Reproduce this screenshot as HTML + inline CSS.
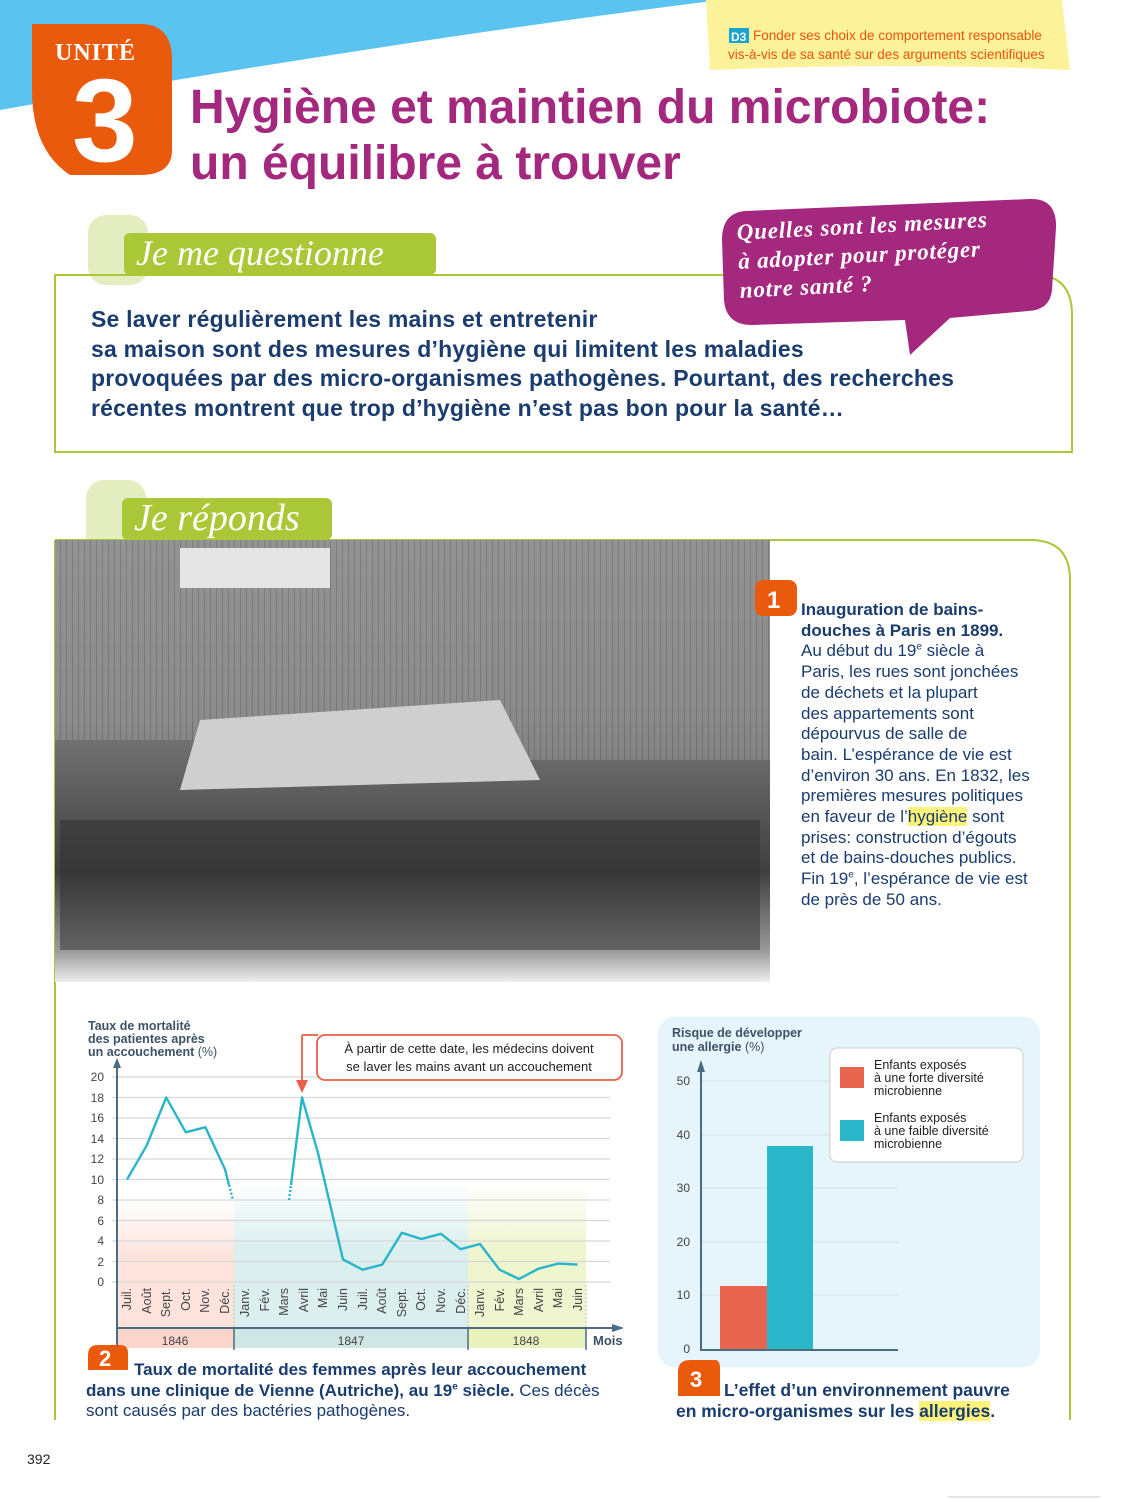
<!DOCTYPE html>
<html><head><meta charset="utf-8"><style>
*{margin:0;padding:0;box-sizing:border-box}
body{width:1125px;height:1500px;position:relative;background:#fff;font-family:"Liberation Sans",sans-serif;overflow:hidden}
.a{position:absolute}
.cap{color:#1a3c6e;font-size:17px;line-height:20.7px}
sup{line-height:0;font-size:10px}
</style></head><body>
<svg class="a" style="left:0;top:0" width="1125" height="1500">
<path d="M0 0 H720 Q400 40 0 110 Z" fill="#5bc3ef"/>
<path d="M32 24 H140 Q172 24 172 60 V150 Q172 175 140 175 H70 Q32 150 32 90 Z" fill="#e95a0c"/>
<path d="M706 0 H1062 L1070 70 Q900 62 710 70 Z" fill="#fcf29a"/>
<rect x="729" y="28" width="20" height="15" fill="#1aa3d1"/>
<text x="731" y="41" font-size="12" font-weight="bold" fill="#fff">D3</text>
<rect x="88" y="215" width="60" height="70" rx="18" fill="#e3edc0"/>
<path d="M55 275 H1035 Q1072 275 1072 315 V452 H55 Z" fill="none" stroke="#a9c736" stroke-width="2"/>
<rect x="124" y="233" width="312" height="42" rx="6" fill="#a9c736"/>
<path d="M745 211 L1030 199 Q1057 198 1056 228 L1052 290 Q1050 310 1028 311 L950 318 L910 355 L905 320 L752 325 Q726 325 724 300 L722 240 Q722 213 745 211 Z" fill="#a3287e"/>
<rect x="86" y="480" width="60" height="75" rx="18" fill="#e3edc0"/>
<path d="M55 540 H1030 Q1070 540 1070 580 V1420 M55 540 V1420" fill="none" stroke="#a9c736" stroke-width="2"/>
<rect x="122" y="498" width="210" height="42" rx="6" fill="#a9c736"/>
<defs>
<linearGradient id="ph" x1="0" y1="0" x2="0" y2="1"><stop offset="0" stop-color="#8a8a8a"/><stop offset=".4" stop-color="#7a7a7a"/><stop offset=".75" stop-color="#3f3f3f"/><stop offset=".93" stop-color="#9a9a9a"/><stop offset="1" stop-color="#eeeeee"/></linearGradient>
<linearGradient id="pk" x1="0" y1="0" x2="0" y2="1"><stop offset="0" stop-color="#fde3dc" stop-opacity="0"/><stop offset=".45" stop-color="#fde3dc"/></linearGradient>
<linearGradient id="tl" x1="0" y1="0" x2="0" y2="1"><stop offset="0" stop-color="#dff0f0" stop-opacity="0"/><stop offset=".45" stop-color="#dcefef"/></linearGradient>
<linearGradient id="yl" x1="0" y1="0" x2="0" y2="1"><stop offset="0" stop-color="#f1f6d6" stop-opacity="0"/><stop offset=".45" stop-color="#eff5cf"/></linearGradient>
<pattern id="hatch" width="6" height="6" patternUnits="userSpaceOnUse"><rect width="6" height="6" fill="#9a9a9a"/><line x1="0" y1="0" x2="0" y2="6" stroke="#666" stroke-width="1.5"/></pattern>
</defs>
<rect x="55" y="540" width="715" height="442" fill="url(#ph)"/>
<rect x="55" y="540" width="430" height="200" fill="url(#hatch)" opacity=".55"/>
<rect x="485" y="540" width="285" height="220" fill="url(#hatch)" opacity=".5"/>
<rect x="180" y="548" width="150" height="40" fill="#e5e5e5"/>
<path d="M200 720 L500 700 L540 780 L180 790 Z" fill="#cfcfcf"/>
<rect x="60" y="820" width="700" height="130" fill="#2e2e2e" opacity=".5"/>
<rect x="755" y="580" width="42" height="36" rx="8" fill="#e95a0c"/>
<text x="767" y="608" font-size="24" font-weight="bold" fill="#fff">1</text>
<rect x="117" y="1200" width="117" height="128" fill="url(#pk)"/>
<rect x="234" y="1180" width="234" height="148" fill="url(#tl)"/>
<rect x="468" y="1180" width="118" height="148" fill="url(#yl)"/>
<g stroke="#d8d8d8" stroke-width="1.2">
<line x1="112" x2="610" y1="1077" y2="1077"/><line x1="112" x2="610" y1="1097.5" y2="1097.5"/><line x1="112" x2="610" y1="1118" y2="1118"/><line x1="112" x2="610" y1="1138.5" y2="1138.5"/><line x1="112" x2="610" y1="1159" y2="1159"/><line x1="112" x2="610" y1="1179.5" y2="1179.5"/><line x1="112" x2="610" y1="1200" y2="1200"/><line x1="112" x2="610" y1="1220.5" y2="1220.5"/><line x1="112" x2="610" y1="1241" y2="1241"/><line x1="112" x2="610" y1="1261.5" y2="1261.5"/><line x1="112" x2="610" y1="1282" y2="1282"/>
</g>
<g stroke="#bbb" stroke-dasharray="2 2"><line x1="234" x2="234" y1="1285" y2="1328"/><line x1="468" x2="468" y1="1285" y2="1328"/><line x1="586" x2="586" y1="1285" y2="1328"/></g>
<rect x="117" y="1328" width="117" height="20" fill="#fbd5c9"/>
<rect x="234" y="1328" width="234" height="20" fill="#cfe6e4"/>
<rect x="468" y="1328" width="118" height="20" fill="#e9f1bd"/>
<line x1="117" x2="117" y1="1065" y2="1350" stroke="#4a6b80" stroke-width="2"/>
<path d="M113 1068 L117 1058 L121 1068 Z" fill="#4a6b80"/>
<line x1="117" x2="622" y1="1328" y2="1328" stroke="#4a6b80" stroke-width="2"/>
<path d="M612 1324 L624 1328 L612 1332 Z" fill="#4a6b80"/>
<line x1="234" x2="234" y1="1328" y2="1350" stroke="#4a6b80" stroke-width="1.5"/>
<line x1="468" x2="468" y1="1328" y2="1350" stroke="#4a6b80" stroke-width="1.5"/>
<line x1="586" x2="586" y1="1328" y2="1350" stroke="#4a6b80" stroke-width="1.5"/>
<g font-size="12" fill="#444" text-anchor="end">
<text x="104" y="1081">20</text><text x="104" y="1102">18</text><text x="104" y="1122">16</text><text x="104" y="1143">14</text><text x="104" y="1163">12</text><text x="104" y="1184">10</text><text x="104" y="1204">8</text><text x="104" y="1225">6</text><text x="104" y="1245">4</text><text x="104" y="1266">2</text><text x="104" y="1286">0</text>
</g>
<g font-size="12" fill="#444" text-anchor="middle"><text x="175" y="1345">1846</text><text x="351" y="1345">1847</text><text x="526" y="1345">1848</text></g>
<text x="593" y="1345" font-size="13" font-weight="bold" fill="#3c5366">Mois</text>
<g font-size="12.5" fill="#444" text-anchor="end">
<text transform="translate(131,1288) rotate(-90)">Juil.</text>
<text transform="translate(151,1288) rotate(-90)">Août</text>
<text transform="translate(170,1288) rotate(-90)">Sept.</text>
<text transform="translate(190,1288) rotate(-90)">Oct.</text>
<text transform="translate(209,1288) rotate(-90)">Nov.</text>
<text transform="translate(229,1288) rotate(-90)">Déc.</text>
<text transform="translate(249,1288) rotate(-90)">Janv.</text>
<text transform="translate(269,1288) rotate(-90)">Fév.</text>
<text transform="translate(288,1288) rotate(-90)">Mars</text>
<text transform="translate(308,1288) rotate(-90)">Avril</text>
<text transform="translate(327,1288) rotate(-90)">Mai</text>
<text transform="translate(347,1288) rotate(-90)">Juin</text>
<text transform="translate(367,1288) rotate(-90)">Juil.</text>
<text transform="translate(386,1288) rotate(-90)">Août</text>
<text transform="translate(406,1288) rotate(-90)">Sept.</text>
<text transform="translate(425,1288) rotate(-90)">Oct.</text>
<text transform="translate(445,1288) rotate(-90)">Nov.</text>
<text transform="translate(465,1288) rotate(-90)">Déc.</text>
<text transform="translate(484,1288) rotate(-90)">Janv.</text>
<text transform="translate(504,1288) rotate(-90)">Fév.</text>
<text transform="translate(523,1288) rotate(-90)">Mars</text>
<text transform="translate(543,1288) rotate(-90)">Avril</text>
<text transform="translate(562,1288) rotate(-90)">Mai</text>
<text transform="translate(582,1288) rotate(-90)">Juin</text>
</g>
<g fill="none" stroke="#29b5c9" stroke-width="2.4" stroke-linejoin="round">
<polyline points="127,1179.5 146.6,1145.7 166.2,1097.5 185.8,1132.3 205.4,1127.2 225,1169.2 229,1185"/>
<polyline points="229,1185 233,1200" stroke-dasharray="2 2"/>
<polyline points="289,1200 291,1185" stroke-dasharray="2 2"/>
<polyline points="291,1185 302,1097.5 318,1153 343,1259.5 362.6,1269.7 382.2,1264.6 401.8,1232.8 421.4,1239 441,1233.8 460.6,1249.2 480,1244 499.5,1269.7 519,1279 538.5,1268.7 558,1263.6 577.5,1264.6"/>
</g>
<path d="M302 1035 V1082" stroke="#e8604a" stroke-width="1.8" fill="none"/>
<path d="M302 1035 H318" stroke="#e8604a" stroke-width="1.8"/>
<path d="M296 1080 L302 1093 L308 1080 Z" fill="#e8604a"/>
<rect x="317" y="1035" width="305" height="45" rx="8" fill="#fff" stroke="#e8604a" stroke-width="1.8"/>
<text x="469" y="1053" font-size="13" text-anchor="middle" fill="#222">À partir de cette date, les médecins doivent</text>
<text x="469" y="1071" font-size="13" text-anchor="middle" fill="#222">se laver les mains avant un accouchement</text>
<text x="88" y="1030" font-size="12.5" font-weight="bold" fill="#3c5366">Taux de mortalité</text>
<text x="88" y="1043" font-size="12.5" font-weight="bold" fill="#3c5366">des patientes après</text>
<text x="88" y="1056" font-size="12.5" font-weight="bold" fill="#3c5366">un accouchement <tspan font-weight="normal">(%)</tspan></text>
<path d="M90 1345 H120 Q128 1345 128 1353 V1370 H88 V1355 Q88 1345 98 1345 Z" fill="#e95a0c"/>
<text x="99" y="1366" font-size="22" font-weight="bold" fill="#fff">2</text>
<rect x="658" y="1017" width="382" height="350" rx="16" fill="#e6f4fb"/>
<g stroke="#d4dfe5"><line x1="700" x2="898" y1="1081" y2="1081"/><line x1="700" x2="898" y1="1135" y2="1135"/><line x1="700" x2="898" y1="1188" y2="1188"/><line x1="700" x2="898" y1="1242" y2="1242"/><line x1="700" x2="898" y1="1295" y2="1295"/></g>
<rect x="720" y="1286" width="47" height="64" fill="#e8654f"/>
<rect x="767" y="1146" width="46" height="204" fill="#2bb7ca"/>
<line x1="701" x2="701" y1="1062" y2="1350" stroke="#4a6b80" stroke-width="2"/>
<path d="M697 1072 L701 1060 L705 1072 Z" fill="#4a6b80"/>
<line x1="700" x2="898" y1="1350" y2="1350" stroke="#4a6b80" stroke-width="2"/>
<g font-size="12" fill="#444" text-anchor="end"><text x="690" y="1085">50</text><text x="690" y="1139">40</text><text x="690" y="1192">30</text><text x="690" y="1246">20</text><text x="690" y="1299">10</text><text x="690" y="1353">0</text></g>
<text x="672" y="1037" font-size="12.5" font-weight="bold" fill="#3c5366">Risque de développer</text>
<text x="672" y="1051" font-size="12.5" font-weight="bold" fill="#3c5366">une allergie <tspan font-weight="normal">(%)</tspan></text>
<rect x="830" y="1048" width="193" height="114" rx="7" fill="#fff" stroke="#ccc"/>
<rect x="840" y="1067" width="24" height="21" fill="#e8654f"/>
<rect x="840" y="1120" width="24" height="21" fill="#2bb7ca"/>
<g font-size="12.5" fill="#222"><text x="874" y="1069">Enfants exposés</text><text x="874" y="1082">à une forte diversité</text><text x="874" y="1095">microbienne</text><text x="874" y="1122">Enfants exposés</text><text x="874" y="1135">à une faible diversité</text><text x="874" y="1148">microbienne</text></g>
<path d="M690 1360 H715 Q720 1360 720 1368 V1396 H678 V1372 Q678 1360 690 1360 Z" fill="#e95a0c"/>
<text x="690" y="1387" font-size="22" font-weight="bold" fill="#fff">3</text>
<line x1="948" x2="1100" y1="1497" y2="1497" stroke="#ccc"/>
</svg>

<div class="a" style="left:55px;top:40px;color:#fff;font:bold 24px 'Liberation Serif',serif;letter-spacing:1px">UNITÉ</div>
<div class="a" style="left:72px;top:62px;color:#fff;font:bold 118px/118px 'Liberation Sans',sans-serif">3</div>
<div class="a" style="left:728px;top:26px;color:#e9540c;font-size:13.5px;line-height:19px;padding-left:25px">Fonder ses choix de comportement responsable</div>
<div class="a" style="left:728px;top:45px;color:#e9540c;font-size:13.5px;line-height:19px">vis-à-vis de sa santé sur des arguments scientifiques</div>
<div class="a" style="left:190px;top:80px;color:#a3287e;font:bold 48px/56px 'Liberation Sans',sans-serif">Hygiène et maintien du microbiote:<br>un équilibre à trouver</div>
<div class="a" style="left:136px;top:233px;color:#fff;font:italic 36px/40px 'Liberation Serif',serif">Je me questionne</div>
<div class="a" style="left:736px;top:218px;color:#fff;font:italic bold 23px/29px 'Liberation Serif',serif;letter-spacing:.8px;transform:rotate(-3deg);transform-origin:0 0">Quelles sont les mesures<br>à adopter pour protéger<br>notre santé ?</div>
<div class="a" style="left:91px;top:305px;color:#1a3c6e;font:bold 23px/29.5px 'Liberation Sans',sans-serif;letter-spacing:.2px">Se laver régulièrement les mains et entretenir<br>sa maison sont des mesures d’hygiène qui limitent les maladies<br>provoquées par des micro-organismes pathogènes. Pourtant, des recherches<br>récentes montrent que trop d’hygiène n’est pas bon pour la santé…</div>
<div class="a" style="left:134px;top:497px;color:#fff;font:italic 38px/42px 'Liberation Serif',serif">Je réponds</div>
<div class="a cap" style="left:801px;top:600px;width:250px"><b>Inauguration de bains-<br>douches à Paris en 1899.</b><br>Au début du 19<sup>e</sup> siècle à<br>Paris, les rues sont jonchées<br>de déchets et la plupart<br>des appartements sont<br>dépourvus de salle de<br>bain. L’espérance de vie est<br>d’environ 30 ans. En 1832, les<br>premières mesures politiques<br>en faveur de l’<span style="background:#fdf27a">hygiène</span> sont<br>prises: construction d’égouts<br>et de bains-douches publics.<br>Fin 19<sup>e</sup>, l’espérance de vie est<br>de près de 50 ans.</div>
<div class="a cap" style="left:86px;top:1360px;width:560px"><span style="padding-left:48px"></span><b>Taux de mortalité des femmes après leur accouchement<br>dans une clinique de Vienne (Autriche), au 19<sup>e</sup> siècle.</b> Ces décès<br>sont causés par des bactéries pathogènes.</div>
<div class="a cap" style="left:676px;top:1380px;width:380px;font-size:17.5px"><b><span style="padding-left:48px"></span>L’effet d’un environnement pauvre<br>en micro-organismes sur les <span style="background:#fdf27a">allergies</span>.</b></div>
<div class="a" style="left:27px;top:1451px;font-size:14px;color:#222">392</div>
</body></html>
